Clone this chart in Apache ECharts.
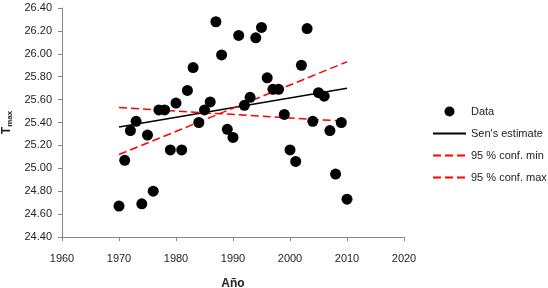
<!DOCTYPE html>
<html>
<head>
<meta charset="utf-8">
<script src="https://cdn.jsdelivr.net/npm/echarts@6/dist/echarts.min.js"></script>
<style>html,body{margin:0;padding:0;background:#fff}#c{width:548px;height:288px}</style>
</head>
<body>
<div id="c"></div>
<script>
const years = [1970,1971,1972,1973,1974,1975,1976,1977,1978,1979,1980,1981,1982,1983,1984,1985,1986,1987,1988,1989,1990,1991,1992,1993,1994,1995,1996,1997,1998,1999,2000,2001,2002,2003,2004,2005,2006,2007,2008,2009,2010];
const tmax = [24.67,25.07,25.33,25.41,24.69,25.29,24.80,25.51,25.51,25.16,25.57,25.16,25.68,25.88,25.40,25.51,25.58,26.28,25.99,25.34,25.27,26.16,25.55,25.62,26.14,26.23,25.79,25.69,25.69,25.47,25.16,25.06,25.90,26.22,25.41,25.66,25.63,25.33,24.95,25.40,24.73];
const lineYears = [1970, 2010];
const senEstimate = [25.36, 25.70];
const confMin = [25.53, 25.41];
const confMax = [25.12, 25.93];
const seriesNames = ['Data', "Sen's estimate", '95 % conf. min', '95 % conf. max'];

const pair = (xs, ys) => xs.map((x, i) => [x, ys[i]]);
const font = 'Liberation Sans';
const chart = echarts.init(document.getElementById('c'), null, {renderer: 'canvas'});
chart.setOption({
  animation: false,
  textStyle: {fontFamily: font},
  grid: {left: 62, right: 144, top: 8, bottom: 51, containLabel: false, outerBoundsMode: 'none'},
  xAxis: {
    type: 'value', min: 1960, max: 2020, interval: 10,
    name: 'Año', nameLocation: 'middle', nameGap: 41,
    nameTextStyle: {fontFamily: font, fontSize: 12, fontWeight: 'bold', color: '#222'},
    axisLine: {show: true, lineStyle: {color: '#868686', width: 1}},
    axisTick: {show: true, length: 4, lineStyle: {color: '#868686'}},
    axisLabel: {fontFamily: font, fontSize: 11, color: '#222', margin: 16, formatter: v => String(v)},
    splitLine: {show: false}
  },
  yAxis: {
    type: 'value', min: 24.4, max: 26.4, interval: 0.2,
    name: '{t|T}{s|max}', nameLocation: 'middle', nameGap: 42, nameRotate: 90,
    nameTextStyle: {
      fontFamily: font, color: '#222',
      rich: {
        t: {fontFamily: font, fontSize: 12, fontWeight: 'bold', color: '#222', lineHeight: 14},
        s: {fontFamily: font, fontSize: 8, fontWeight: 'bold', color: '#222', lineHeight: 14, verticalAlign: 'bottom', padding: [5, 0, 0, 0]}
      }
    },
    axisLine: {show: true, lineStyle: {color: '#868686', width: 1}},
    axisTick: {show: true, length: 4, lineStyle: {color: '#868686'}},
    axisLabel: {fontFamily: font, fontSize: 11, color: '#222', margin: 10, formatter: v => v.toFixed(2)},
    splitLine: {show: false}
  },
  legend: {
    orient: 'vertical', left: 432, top: 106, padding: 0,
    itemWidth: 33, itemHeight: 10, itemGap: 11,
    textStyle: {fontFamily: font, fontSize: 11, color: '#222'},
    data: seriesNames.map((n, i) => i === 0
      ? {name: n, icon: 'circle'}
      : {name: n, itemStyle: {opacity: 0, color: 'transparent', borderColor: 'transparent'}})
  },
  series: [
    {name: seriesNames[0], type: 'scatter', data: pair(years, tmax), symbol: 'circle', symbolSize: 11,
     itemStyle: {color: '#000', opacity: 1}, z: 5},
    {name: seriesNames[1], type: 'line', data: pair(lineYears, senEstimate), symbol: 'none',
     lineStyle: {color: '#000', width: 1.5}, itemStyle: {color: '#000'}},
    {name: seriesNames[2], type: 'line', data: pair(lineYears, confMin), symbol: 'none',
     lineStyle: {color: '#ff0000', width: 1.5, type: [8, 4]}, itemStyle: {color: '#ff0000'}},
    {name: seriesNames[3], type: 'line', data: pair(lineYears, confMax), symbol: 'none',
     lineStyle: {color: '#ff0000', width: 1.5, type: [8, 4]}, itemStyle: {color: '#ff0000'}}
  ]
});
</script>
</body>
</html>
